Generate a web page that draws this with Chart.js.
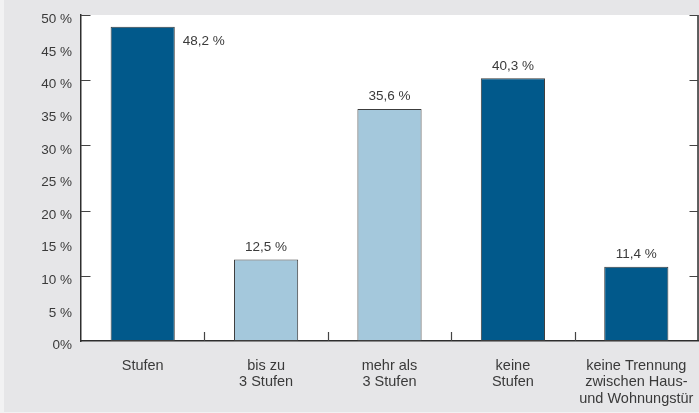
<!DOCTYPE html>
<html>
<head>
<meta charset="utf-8">
<script src="https://cdn.jsdelivr.net/npm/chart.js@4/dist/chart.umd.min.js"></script>
<style>
  html, body { margin: 0; padding: 0; background: #e6e6e8; }
  canvas { display: block; }
</style>
</head>
<body>
<canvas id="c" width="699" height="413"></canvas>
<script>
// ---- data ----
const categories = [
  ['Stufen'],
  ['bis zu', '3 Stufen'],
  ['mehr als', '3 Stufen'],
  ['keine', 'Stufen'],
  ['keine Trennung', 'zwischen Haus-', 'und Wohnungstür']
];
const values = [48.2, 12.5, 35.6, 40.3, 11.4];
const barGroups = ['dark', 'light', 'light', 'dark', 'dark'];
const yTicks = [0, 5, 10, 15, 20, 25, 30, 35, 40, 45, 50];
const majorTicks = [10, 20, 30, 40, 50];

// ---- styles ----
const COLORS = { dark: '#01598b', light: '#a4c8dc' };
const TEXT = '#3a3a3a';
const AXIS = '#2e2e2e';
const FONT = '"Liberation Sans", Arial, Helvetica, sans-serif';

function fmtPct(v) {
  return v.toFixed(1).replace('.', ',') + ' %';
}

const decor = {
  id: 'decor',
  beforeDraw(chart) {
    const { ctx, chartArea: a, width, height } = chart;
    ctx.save();
    ctx.fillStyle = '#e6e6e8';
    ctx.fillRect(0, 0, width, height);
    ctx.fillStyle = '#f2f2f3';
    ctx.fillRect(0, 0, 4, height);
    ctx.fillRect(0, height - 1, width, 1);
    ctx.fillStyle = '#ffffff';
    ctx.fillRect(a.left, a.top, a.right - a.left, a.bottom - a.top);
    ctx.restore();
  },
  afterDatasetsDraw(chart) {
    const { ctx, chartArea: a } = chart;
    const meta = chart.getDatasetMeta(0);
    ctx.save();
    ctx.fillStyle = TEXT;
    ctx.font = '13.5px ' + FONT;
    ctx.textBaseline = 'alphabetic';
    meta.data.forEach((bar, i) => {
      const label = fmtPct(values[i]);
      const half = bar.width / 2;
      if (bar.y - a.top < 30) {
        ctx.textAlign = 'left';
        ctx.fillText(label, bar.x + half + 8, bar.y + 18.5);
      } else {
        ctx.textAlign = 'center';
        ctx.fillText(label, bar.x, bar.y - 8.5);
      }
    });
    ctx.restore();
  },
  afterDraw(chart) {
    const { ctx, chartArea: a, scales } = chart;
    const y = scales.y, x = scales.x;
    ctx.save();
    // right axis line
    ctx.strokeStyle = AXIS;
    ctx.lineWidth = 1.5;
    ctx.beginPath();
    ctx.moveTo(a.right, a.top);
    ctx.lineTo(a.right, a.bottom);
    ctx.stroke();
    // inward major ticks
    ctx.strokeStyle = '#444';
    ctx.lineWidth = 1.2;
    ctx.beginPath();
    majorTicks.forEach(v => {
      const py = Math.round(y.getPixelForValue(v)) + 0.5;
      ctx.moveTo(a.left, py); ctx.lineTo(a.left + 9.5, py);
      ctx.moveTo(a.right, py); ctx.lineTo(a.right - 8.5, py);
    });
    for (let i = 1; i < categories.length; i++) {
      const px = Math.round((x.getPixelForValue(i - 1) + x.getPixelForValue(i)) / 2) + 0.5;
      ctx.moveTo(px, a.bottom); ctx.lineTo(px, a.bottom - 9);
    }
    ctx.stroke();
    ctx.restore();
  }
};

new Chart(document.getElementById('c'), {
  type: 'bar',
  data: {
    labels: categories,
    datasets: [{
      data: values,
      backgroundColor: barGroups.map(g => COLORS[g]),
      borderColor: '#3c3c3c',
      borderWidth: 1,
      borderSkipped: false,
      barPercentage: 0.52,
      categoryPercentage: 1
    }]
  },
  options: {
    responsive: false,
    animation: false,
    devicePixelRatio: 1,
    layout: { padding: { top: 15, right: 1, left: 0, bottom: 0 } },
    plugins: { legend: { display: false }, tooltip: { enabled: false } },
    scales: {
      x: {
        grid: { display: false, drawTicks: false, tickLength: 0 },
        border: { display: true, color: AXIS, width: 1.5 },
        ticks: {
          color: TEXT,
          font: { family: FONT, size: 14.5, lineHeight: 1.14 },
          padding: 16.5,
          maxRotation: 0,
          autoSkip: false
        },
        afterFit(s) { s.height = 72; s.paddingLeft = 0; s.paddingRight = 0; }
      },
      y: {
        min: 0, max: 50,
        afterBuildTicks(s) { s.ticks = yTicks.map(v => ({ value: v })); },
        grid: { display: false, drawTicks: false, tickLength: 0 },
        border: { display: true, color: AXIS, width: 1.5 },
        ticks: {
          color: TEXT,
          font: { family: FONT, size: 13.5 },
          padding: 9,
          labelOffset: 4.5,
          callback: v => v === 0 ? '0%' : v + ' %'
        },
        afterFit(s) { s.width = 81; s.paddingTop = 0; s.paddingBottom = 0; }
      }
    }
  },
  plugins: [decor]
});
</script>
</body>
</html>
